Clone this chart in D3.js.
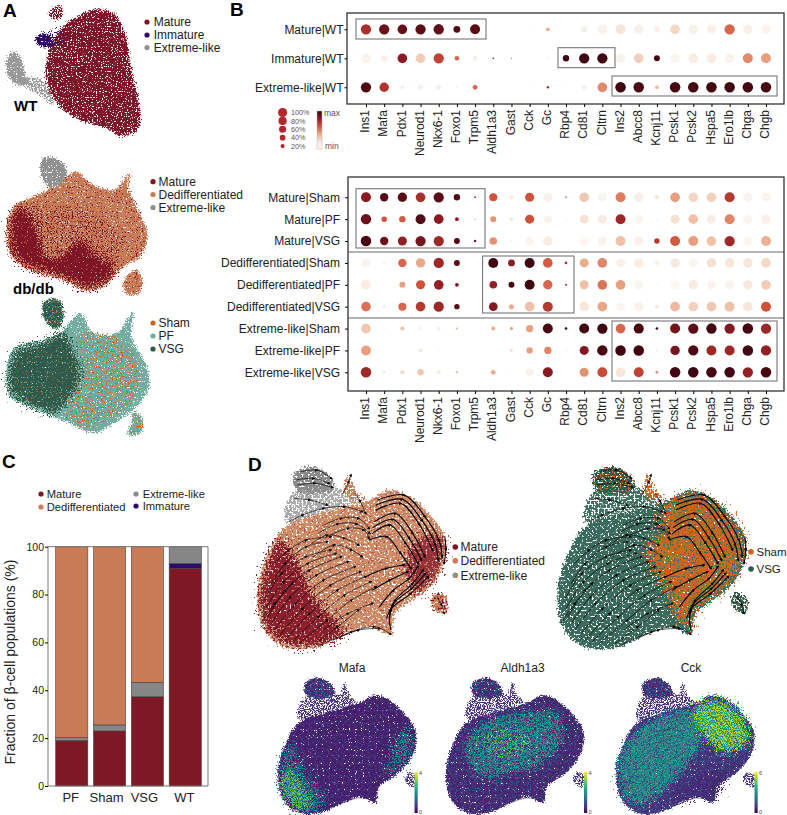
<!DOCTYPE html>
<html><head><meta charset="utf-8">
<script src="https://cdnjs.cloudflare.com/ajax/libs/d3/7.8.5/d3.min.js"></script>
<style>
html,body{margin:0;padding:0;background:#fff}
svg{display:block}
text{font-family:"Liberation Sans",Arial,sans-serif;fill:#222}
</style></head><body>
<svg id="c" width="787" height="815"></svg>
<script>
/* ---------- dot plots ---------- */
const genes=["Ins1","Mafa","Pdx1","Neurod1","Nkx6-1","Foxo1","Trpm5","Aldh1a3","Gast","Cck","Gc","Rbp4","Cd81","Cltrn","Ins2","Abcc8","Kcnj11","Pcsk1","Pcsk2","Hspa5","Ero1lb","Chga","Chgb"];
const rowsWT=["Mature|WT","Immature|WT","Extreme-like|WT"];
const pctWT=[
[90,90,80,90,92,40,85,0,0,1,12,1,30,80,85,75,30,80,75,75,90,75,75],
[80,35,80,80,90,18,18,2,1,0,5,35,90,90,70,80,30,75,80,80,80,85,85],
[90,75,12,25,22,5,20,0,0,1,5,2,15,80,95,95,12,95,95,95,95,95,95]];
const expWT=[
[.72,.88,.9,.92,.9,.95,.92,0,0,.1,.4,.1,.12,.08,.2,.1,.1,.25,.1,.1,.55,.1,.08],
[.06,.1,.8,.28,.65,.55,.12,.95,.7,0,.08,.98,.98,.98,.08,.27,.98,.07,.14,.14,.08,.47,.42],
[.95,.7,.12,.1,.12,.07,.55,0,0,.1,.7,.1,.15,.47,.98,.96,.35,.97,.97,.98,.98,.97,.97]];
const rowsDb=["Mature|Sham","Mature|PF","Mature|VSG","Dedifferentiated|Sham","Dedifferentiated|PF","Dedifferentiated|VSG","Extreme-like|Sham","Extreme-like|PF","Extreme-like|VSG"];
const pctDb=[
[85,60,75,80,90,35,3,55,18,70,70,4,80,70,85,75,17,80,80,80,85,70,70],
[92,25,35,85,80,12,1,30,12,70,55,2,65,70,85,60,5,70,80,70,85,70,75],
[95,60,70,90,90,30,5,50,7,60,75,1,70,70,85,75,25,85,85,80,90,65,85],
[75,5,60,75,90,30,.5,85,40,85,80,6,70,80,70,75,15,75,70,75,80,75,80],
[85,1,30,70,80,12,0,50,30,85,75,4,70,80,80,70,4,65,75,65,70,75,80],
[80,10,55,80,90,25,1,65,22,80,85,1,75,80,70,75,13,80,80,80,85,80,85],
[80,4,14,15,12,4,0,14,8,45,85,6,85,90,80,88,6,85,90,92,90,95,90],
[85,.5,1,12,3,0,0,.5,4,35,45,3,70,92,95,95,4,75,90,85,85,95,90],
[95,6,14,35,15,3,.5,20,2,50,85,.5,70,85,80,85,6,95,95,95,95,90,95]];
const expDb=[
[.8,.93,.92,.72,.92,.95,.7,.6,.15,.6,.1,.45,.3,.07,.5,.12,.2,.42,.25,.27,.68,.07,.07],
[.88,.6,.58,.95,.8,.8,.6,.45,.2,.6,.06,.2,.22,.15,.75,.06,.06,.22,.32,.12,.48,.07,.1],
[.97,.88,.78,.85,.75,.93,.9,.45,.06,.06,.14,.05,.05,.08,.32,.1,.68,.58,.42,.32,.75,.05,.37],
[.06,.12,.55,.4,.75,.92,.05,.98,.8,.98,.58,.7,.38,.48,.1,.14,.13,.17,.07,.22,.2,.2,.24],
[.14,.05,.42,.6,.78,.85,0,.78,.98,.99,.55,.65,.32,.52,.42,.06,.05,.05,.15,.06,.06,.18,.28],
[.52,.12,.55,.68,.75,.92,.06,.82,.38,.32,.68,.05,.2,.4,.05,.08,.2,.35,.27,.3,.32,.2,.6],
[.3,.1,.32,.06,.12,.35,0,.38,.42,.42,.96,.98,.98,.99,.55,.97,.98,.85,.92,.98,.82,.97,.75],
[.42,.05,.05,.18,.08,0,0,.05,.3,.42,.48,.15,.82,.97,.99,.99,.1,.85,.95,.75,.75,.98,.78],
[.75,.2,.25,.3,.15,.4,.06,.38,.08,.1,.8,.03,.45,.62,.2,.65,.5,.98,.99,.97,.98,.78,.97]];
const sizeLegend=[100,80,60,40,20];
const expStops=["#fdfaf7","#f7e6da","#e9a887","#d0503a","#8b1a22","#3a0410"];

/* ---------- stacked bars ---------- */
const groups=["PF","Sham","VSG","WT"];
const stackKeys=["Mature","Immature","Extreme-like","Dedifferentiated"];
const matureFrac=[19,23,37.3,91];
const immatureFrac=[0,0,0,2];
const extremeFrac=[1.3,2.5,6,7];
const dedifFrac=[79.7,74.5,56.7,0];
const yTicksC=[0,20,40,60,80,100];
const xLabelNudge=[-1,-3,-3,-1];

/* ---------- UMAP region outlines (panel A units) ---------- */
const wtMain=[[290,28],[340,40],[375,100],[392,200],[418,320],[415,385],[365,408],[320,385],[240,360],[180,320],[140,250],[140,180],[160,120],[200,70],[240,45]];
const wtTop=[[145,40],[180,16],[190,38],[170,60]];
const wtImm=[[105,120],[125,100],[155,110],[160,135],[130,142]];
const wtImmSpread=[[140,95],[190,85],[195,130],[150,125]];
const wtGrey=[[18,195],[35,155],[60,172],[78,225],[90,250],[55,255],[28,235]];
const wtTail=[[80,235],[125,240],[155,285],[160,318],[120,285],[80,262]];
const dbDed=[[20,700],[40,620],[100,590],[160,560],[230,515],[270,550],[340,570],[380,530],[395,510],[385,560],[420,640],[443,710],[420,770],[370,800],[310,860],[260,872],[190,840],[90,810],[35,770]];
const dbMat=[[30,700],[50,625],[80,630],[115,700],[145,775],[190,765],[240,720],[290,770],[345,795],[310,850],[260,862],[190,830],[90,800],[40,760]];
const dbSprinkle=[[90,630],[200,620],[300,650],[370,720],[330,790],[240,780],[150,750],[110,690]];
const dbGrey=[[125,480],[150,472],[190,490],[200,530],[160,565],[130,540]];
const dbSmall=[[380,830],[405,810],[425,830],[420,875],[385,885],[370,860]];
const trtAll=[[25,1180],[40,1050],[130,1020],[190,990],[240,940],[280,1000],[350,1000],[400,935],[395,1010],[440,1100],[447,1160],[410,1220],[340,1270],[280,1300],[210,1270],[110,1230]];
const trtTop=[[130,910],[150,897],[180,905],[190,950],[170,985],[135,960]];
const trtVSG=[[33,1175],[48,1055],[130,1028],[190,1000],[215,1040],[240,1100],[240,1140],[205,1195],[165,1240],[110,1222]];
const trtSham=[[200,1250],[215,1170],[250,1100],[240,1000],[340,1010],[400,1060],[410,1180],[340,1250],[270,1280]];
const trtSmall=[[400,1235],[422,1250],[425,1295],[385,1305],[395,1270]];

/* ---------- velocity-panel outlines (panel D units) ---------- */
const velMain=[[130,230],[230,190],[300,170],[370,150],[430,120],[500,150],[550,200],[587,260],[587,330],[560,390],[510,440],[445,490],[432,552],[370,530],[290,560],[220,592],[130,592],[70,540],[50,420],[85,300]];
const velMatL=[[110,265],[92,305],[60,420],[78,532],[135,582],[220,582],[300,550],[250,490],[205,430],[170,350],[130,285]];
const velMatR=[[475,335],[530,255],[578,265],[578,330],[552,385],[505,430],[490,400]];
const velShamRegion=[[372,160],[430,130],[495,158],[542,205],[578,262],[578,328],[552,385],[505,432],[440,482],[430,540],[400,515],[370,450],[325,350],[305,290],[350,250],[345,195]];
const velGrey=[[155,70],[210,50],[260,80],[270,115],[230,130],[160,120]];
const velSparse=[[150,130],[260,110],[340,150],[240,185],[130,215]];
const velSpike=[[310,70],[330,120],[360,150],[300,135]];
const velSmall=[[558,430],[590,440],[590,490],[550,470]];
const streamlines=[
[[70,450],[120,370],[190,320],[260,300]],[[80,500],[130,420],[200,360],[290,320]],[[100,540],[160,460],[240,390],[330,350]],
[[130,570],[200,490],[280,420],[360,380]],[[170,580],[250,510],[320,450],[390,410]],[[90,400],[130,340],[190,290],[250,275]],
[[100,340],[140,300],[190,270],[260,260]],[[210,585],[280,530],[340,480]],[[60,520],[100,460],[150,400]],
[[75,475],[125,395],[195,340],[275,310]],[[90,520],[145,440],[220,375],[310,335]],[[115,555],[180,475],[260,405],[345,365]],[[150,575],[225,500],[300,435],[375,395]],
[[230,586],[320,546],[385,530],[432,552]],[[280,565],[340,540],[400,535]],[[240,540],[310,490],[380,460]],
[[140,215],[180,195],[240,175],[300,170],[350,185]],[[240,225],[290,205],[340,205],[370,235]],[[260,255],[310,235],[355,240],[370,265]],
[[200,285],[250,255],[300,265],[340,285]],[[210,320],[270,285],[320,300],[350,320]],[[225,250],[280,222],[335,222],[372,250]],
[[160,90],[210,85],[255,100]],[[165,105],[215,100],[265,112]],[[175,65],[220,60],[262,85]],[[155,145],[200,150],[250,165]],[[295,130],[312,95],[318,75]],[[330,130],[345,155],[360,190]],
[[565,440],[578,465],[585,490]]
];
const streamlinesBold=[
[[395,150],[470,135],[530,200],[570,270],[580,320]],[[390,165],[465,148],[522,212],[560,285],[568,330]],[[390,180],[460,160],[515,225],[552,300]],[[385,215],[445,190],[495,250],[530,320]],[[382,232],[438,208],[485,265],[520,330]],[[380,250],[430,225],[475,280],[510,340]],[[370,270],[420,260],[460,310],[490,355]],
[[432,540],[432,480],[490,430],[540,380]],[[428,522],[438,465],[492,415],[532,370]],[[420,505],[445,450],[495,400],[525,360]],[[400,470],[440,420],[485,385],[510,350]],[[380,420],[430,390],[480,365]],[[360,380],[420,355],[470,345]],[[587,260],[590,300],[585,340]]
];
const geneTitles=["Mafa","Aldh1a3","Cck"];
const geneMax=[4,4,6];
/* gene panels: colour field regions */
const fieldLowLeft=[[95,310],[62,420],[80,530],[135,580],[215,580],[225,510],[150,430],[120,340]];
const fieldLowLeftCore=[[65,440],[80,530],[130,580],[175,565],[145,485],[90,420]];
const fieldRightEdge=[[500,320],[550,255],[578,290],[552,385],[505,432],[470,435],[495,380]];
const fieldCentre=[[130,310],[230,215],[370,190],[480,190],[510,290],[420,400],[320,430],[210,450],[145,400]];
const fieldAldhHot=[[200,290],[290,250],[380,300],[340,360],[240,370]];
const fieldCckHot=[[355,180],[430,135],[495,158],[545,215],[572,300],[520,335],[470,345],[405,295],[375,240]];
const fieldCckLow=[[340,465],[400,420],[480,420],[435,535],[370,520],[295,550],[270,515]];
const fieldCckMid=[[95,310],[230,205],[345,190],[375,300],[330,395],[265,470],[205,530],[125,560],[70,500],[62,420]];

/* ---------- legends ---------- */
const legA1=[["Mature","#7d1526"],["Immature","#2e0a6e"],["Extreme-like","#8f8f8f"]];
const legA2=[["Mature","#7d1526"],["Dedifferentiated","#c97b56"],["Extreme-like","#8f8f8f"]];
const legA3=[["Sham","#c8651f"],["PF","#73ad9f"],["VSG","#2d5a4c"]];
const legD2=[["Sham","#c8651f"],["VSG","#2d5a4c"]];

const svg=d3.select("#c");
const defs=svg.append("defs");
/* texture filters: turn a region fill into a scatter-like grain */
function speckle(id,freq,seed,thr,disp){
  const f=defs.append("filter").attr("id",id).attr("filterUnits","userSpaceOnUse")
    .attr("x",0).attr("y",0).attr("width",787).attr("height",815)
    .attr("color-interpolation-filters","sRGB");
  f.append("feTurbulence").attr("type","fractalNoise").attr("baseFrequency",freq).attr("numOctaves",1).attr("seed",seed).attr("result","n");
  f.append("feDisplacementMap").attr("in","SourceGraphic").attr("in2","n").attr("scale",disp).attr("xChannelSelector","R").attr("yChannelSelector","B").attr("result","d");
  f.append("feColorMatrix").attr("in","n").attr("type","matrix")
    .attr("values",`0 0 0 0 0 0 0 0 0 0 0 0 0 0 0 0 16 0 0 ${-16*thr}`).attr("result","m");
  f.append("feComposite").attr("in","d").attr("in2","m").attr("operator","in").attr("result","o");
  f.append("feGaussianBlur").attr("in","o").attr("stdDeviation",.35);
}
speckle("dense",.8,3,.30,10);speckle("dense2",.8,11,.34,10);speckle("mid",.8,7,.44,10);
speckle("sparse",.8,5,.57,10);speckle("sparse2",.8,17,.53,10);speckle("vsparse",.8,23,.63,10);
speckle("soft",.8,31,.29,34);
speckle("vDense",.5,4,.34,10);speckle("vMid",.5,9,.44,10);speckle("vSparse",.5,15,.58,10);speckle("vsparseV",.5,37,.62,10);
speckle("vSoft",.5,41,.32,38);
speckle("gDense",.85,6,.27,7);speckle("gMid",.85,13,.45,7);speckle("gSparse",.85,21,.57,7);speckle("gSparse2",.85,53,.55,7);
speckle("gSoft",.85,43,.32,38);speckle("gSoftMid",.85,47,.46,38);

const closed=d3.line().curve(d3.curveCatmullRomClosed.alpha(.5));
function region(g,pts,sx,sy,fill,filter,op){
  g.append("path").attr("d",closed(pts.map(p=>[sx(p[0]),sy(p[1])])))
   .attr("fill",fill).attr("filter",`url(#${filter})`).attr("opacity",op==null?1:op);
}
function legend(items,x,ys,tx,fs,r){
  items.forEach((d,i)=>{
    svg.append("circle").attr("cx",x).attr("cy",ys[i]).attr("r",r||2.6).attr("fill",d[1]);
    svg.append("text").attr("x",tx).attr("y",ys[i]+fs*.36).attr("font-size",fs).text(d[0]);
  });
}
function letter(t,x,y){svg.append("text").attr("x",x).attr("y",y).attr("font-size",19).attr("font-weight","bold").style("fill","#000").text(t);}
letter("A",3,17);letter("B",230,16);letter("C",2,468);letter("D",248,471);

/* ---------- panel A ---------- */
const ax=d3.scaleLinear([0,690],[0,230]),ay=d3.scaleLinear([0,1320],[0,440]);
const gA=svg.append("g");
region(gA,wtGrey,ax,ay,"#999","dense");
region(gA,wtTail,ax,ay,"#999","mid");
region(gA,wtMain,ax,ay,"#7d1526","dense2");
region(gA,wtTop,ax,ay,"#7d1526","mid");
region(gA,wtImmSpread,ax,ay,"#2e0a6e","sparse");
region(gA,wtImm,ax,ay,"#2e0a6e","dense");
region(gA,dbDed,ax,ay,"#c97b56","dense");
region(gA,dbSmall,ax,ay,"#c97b56","dense");
region(gA,dbSmall,ax,ay,"#7d1526","vsparse");
region(gA,dbDed,ax,ay,"#7d1526","vsparse");
region(gA,dbSprinkle,ax,ay,"#7d1526","sparse");
region(gA,dbMat,ax,ay,"#7d1526","soft");
region(gA,dbGrey,ax,ay,"#909090","dense");
region(gA,trtTop,ax,ay,"#73ad9f","dense");
region(gA,trtTop,ax,ay,"#2d5a4c","dense2");
region(gA,trtTop,ax,ay,"#c8651f","vsparse");
region(gA,trtAll,ax,ay,"#73ad9f","dense");
region(gA,trtSmall,ax,ay,"#73ad9f","dense");
region(gA,trtSmall,ax,ay,"#c8651f","sparse");
region(gA,trtSham,ax,ay,"#c8651f","sparse");
region(gA,trtVSG,ax,ay,"#2d5a4c","soft");
region(gA,trtVSG,ax,ay,"#c8651f","vsparse",.6);
svg.append("text").attr("x",14).attr("y",111).attr("font-size",15).attr("font-weight","bold").style("fill","#000").text("WT");
svg.append("text").attr("x",13).attr("y",294).attr("font-size",15).attr("font-weight","bold").style("fill","#000").text("db/db");
legend(legA1,147,[22,35,47.5],153.7,12);
legend(legA2,153,[181.7,194.5,207.5],158.5,12);
legend(legA3,153,[323,336,349],158.5,12);

/* ---------- panel B ---------- */
const xGene=d3.scalePoint(genes,[366,766]);
const sizeScale=d3.scaleSqrt([0,100],[0,5.4]);
const expScale=d3.scaleLinear(expStops.map((_,i)=>i/(expStops.length-1)),expStops);
function dotPanel(rows,pct,exp,yr,box,tickSize,pad,seps,rects){
  const y=d3.scalePoint(rows,yr);
  const g=svg.append("g");
  seps.forEach(s=>g.append("line").attr("x1",box[0]).attr("x2",box[2]).attr("y1",s).attr("y2",s).attr("stroke","#666").attr("stroke-width",1));
  rows.forEach((r,i)=>genes.forEach((ge,j)=>{
    if(pct[i][j]<=0)return;
    g.append("circle").attr("cx",xGene(ge)).attr("cy",y(r)).attr("r",sizeScale(pct[i][j])).attr("fill",expScale(exp[i][j]));
  }));
  rects.forEach(q=>g.append("rect").attr("x",q[0]).attr("y",q[1]).attr("width",q[2]-q[0]).attr("height",q[3]-q[1]).attr("fill","none").attr("stroke","#777").attr("stroke-width",1.1));
  g.append("rect").attr("x",box[0]).attr("y",box[1]).attr("width",box[2]-box[0]).attr("height",box[3]-box[1]).attr("fill","none").attr("stroke","#333").attr("stroke-width",1.3);
  const ya=svg.append("g").attr("transform",`translate(${box[0]},0)`).call(d3.axisLeft(y).tickSize(tickSize).tickPadding(pad));
  ya.select(".domain").remove();ya.selectAll("text").attr("font-size",12).attr("font-family",null);
  const xa=svg.append("g").attr("transform",`translate(0,${box[3]})`).call(d3.axisBottom(xGene).tickSize(3).tickPadding(4));
  xa.select(".domain").remove();
  xa.selectAll("text").attr("font-size",12).attr("font-family",null).attr("transform","rotate(-90)").attr("text-anchor","end").attr("x",-6).attr("y",-1.5).attr("dy",".35em");
}
dotPanel(rowsWT,pctWT,expWT,[29.3,87.3],[347,13,784,104],2.5,1,[],[[356,19,486,39],[558,47.7,615,67.7],[612,76,777,96]]);
dotPanel(rowsDb,pctDb,expDb,[197.3,372.3],[348,177,784,391],3,5,[252,318],[[356,188.7,485,248],[482.6,256,574,313],[612,321,777,381]]);
/* size legend */
sizeLegend.forEach((p,i)=>{
  const cy=112.5+i*8.4;
  svg.append("circle").attr("cx",282.6).attr("cy",cy).attr("r",sizeScale(p)*.85).attr("fill","#b5262b");
  svg.append("text").attr("x",291).attr("y",cy+2.6).attr("font-size",7.2).style("fill","#555").text(p+"%");
});
const grad=defs.append("linearGradient").attr("id","expG").attr("x1",0).attr("x2",0).attr("y1",1).attr("y2",0);
expStops.forEach((c,i)=>grad.append("stop").attr("offset",i/(expStops.length-1)).attr("stop-color",c));
svg.append("rect").attr("x",317).attr("y",111).attr("width",5).attr("height",38).attr("fill","url(#expG)").attr("stroke","#bbb").attr("stroke-width",.5);
svg.append("text").attr("x",324).attr("y",116).attr("font-size",8.5).style("fill","#555").text("max");
svg.append("text").attr("x",325).attr("y",149).attr("font-size",8.5).style("fill","#555").text("min");

/* ---------- panel C ---------- */
const xC=d3.scaleBand(groups,[50,207]).padding(.15);
const yC=d3.scaleLinear([0,100],[786,546.7]);
const stackColors={"Mature":"#7f1825","Extreme-like":"#868686","Immature":"#2e0a6e","Dedifferentiated":"#c97b56"};
const fracs={"Mature":matureFrac,"Extreme-like":extremeFrac,"Immature":immatureFrac,"Dedifferentiated":dedifFrac};
const table=groups.map((g,i)=>{const o={group:g};stackKeys.forEach(k=>o[k]=fracs[k][i]);return o;});
const series=d3.stack().keys(stackKeys)(table);
const gC=svg.append("g");
series.forEach(s=>gC.selectAll(null).data(s).join("rect").filter(d=>d[1]>d[0])
  .attr("x",d=>xC(d.data.group)).attr("width",xC.bandwidth())
  .attr("y",d=>yC(d[1])).attr("height",d=>yC(d[0])-yC(d[1]))
  .attr("fill",stackColors[s.key]).attr("stroke","#444").attr("stroke-width",.6));
svg.append("path").attr("d",`M48,${yC(0)}V${yC(100)}H208V${yC(0)}Z`).attr("fill","none").attr("stroke","#777").attr("stroke-width",1);
const yaC=svg.append("g").attr("transform","translate(48,0)").call(d3.axisLeft(yC).tickValues(yTicksC).tickSize(3).tickPadding(1));
yaC.select(".domain").remove();yaC.selectAll("text").attr("font-size",10.5).attr("font-family",null);
const xaC=svg.append("g").attr("transform",`translate(0,${yC(0)})`).call(d3.axisBottom(xC).tickSize(0).tickPadding(7));
xaC.select(".domain").remove();xaC.selectAll("text").attr("font-size",13).attr("font-family",null).attr("dx",(d,i)=>xLabelNudge[i]);
svg.append("text").attr("transform","translate(15,662) rotate(-90)").attr("text-anchor","middle").attr("font-size",14).text("Fraction of β-cell populations (%)");
legend([["Mature","#7d1526"],["Dedifferentiated","#c97b56"]],41,[494,507],46.7,11.2);
legend([["Extreme-like","#8a8a8a"],["Immature","#2e0a6e"]],136,[494,506],142.7,11.2);

/* ---------- panel D ---------- */
const open=d3.line().curve(d3.curveCatmullRom.alpha(.5));
defs.append("marker").attr("id","arr").attr("viewBox","0 0 6 6").attr("refX",3).attr("refY",3)
  .attr("markerWidth",3.2).attr("markerHeight",3.2).attr("orient","auto").attr("markerUnits","userSpaceOnUse")
  .append("path").attr("d","M0,0L6,3L0,6Z").attr("fill","#000");
function streams(sx,sy,w,wb,col,mark){
  const g=svg.append("g").attr("fill","none").attr("stroke",col).attr("stroke-linecap","round");
  const one=(l,wd)=>{
    g.append("path").attr("d",open(l.map(p=>[sx(p[0]),sy(p[1])]))).attr("stroke-width",wd);
    if(mark){
      l.forEach((p,i)=>{if(i>0)g.append("path").attr("d",`M${sx(l[i-1][0])},${sy(l[i-1][1])}L${sx(p[0])},${sy(p[1])}`).attr("stroke","none").attr("marker-end","url(#arr)");});
    }
  };
  streamlines.forEach(l=>one(l,w));
  streamlinesBold.forEach(l=>one(l,wb));
}
const d1x=d3.scaleLinear([0,600],[240,240+600/2.866]),d2x=d3.scaleLinear([0,600],[540,540+600/2.866]);
const dy=d3.scaleLinear([0,600],[450,650]);
const gD=svg.append("g");
region(gD,velSparse,d1x,dy,"#a8a8a8","vMid");
region(gD,velGrey,d1x,dy,"#8a8a8a","vDense");
region(gD,velSpike,d1x,dy,"#c97b56","vMid");
region(gD,velMain,d1x,dy,"#d08c66","vDense");
region(gD,velSmall,d1x,dy,"#c97b56","vDense");
region(gD,velSmall,d1x,dy,"#7d1526","vSparse");
region(gD,velMatL,d1x,dy,"#8b1f30","vSoft");
region(gD,velMatR,d1x,dy,"#8b1f30","vSoft",.85);
region(gD,velMain,d1x,dy,"#8b1f30","vsparseV",.5);
streams(d1x,dy,.65,1.1,"#000",true);
legend(legA2,455.3,[547,560.7,575.3],460.5,12,2.8);
region(gD,velSparse,d2x,dy,"#3f6f60","vMid");
region(gD,velGrey,d2x,dy,"#2d5a4c","vDense");
region(gD,velGrey,d2x,dy,"#c8651f","vSparse");
region(gD,velSpike,d2x,dy,"#c8651f","vMid");
region(gD,velMain,d2x,dy,"#3a6a5b","vDense");
region(gD,velShamRegion,d2x,dy,"#c8691f","vSoft");
region(gD,velSmall,d2x,dy,"#c8651f","vMid");
region(gD,velSmall,d2x,dy,"#2d5a4c","vMid");
region(gD,velMain,d2x,dy,"#3a6a5b","vsparseV",.7);
streams(d2x,dy,.65,1.1,"#000",true);
legend(legD2,751,[551.7,569],756.5,11.5,2.8);

const gk=.2547,gky=.248;
const viridis=d3.interpolateViridis;
[278.4,446,616.5].forEach((x0,i)=>{
  const sx=d3.scaleLinear([50,600],[x0,x0+550*gk]),sy=d3.scaleLinear([50,600],[678,678+550*gky]);
  const g=svg.append("g");
  const main=velMain,top=velGrey;
  [velSparse,velSpike,velSmall].forEach(p=>region(g,p,sx,sy,viridis(.15),"gMid"));
  region(g,top,sx,sy,viridis(.12),"gDense");
  region(g,top,sx,sy,viridis(.42),"gSparse");
  if(i==0){
    region(g,main,sx,sy,viridis(.08),"gDense");
    region(g,main,sx,sy,viridis(.22),"gSparse");
    region(g,fieldLowLeft,sx,sy,viridis(.45),"gSoftMid");
    region(g,fieldLowLeftCore,sx,sy,viridis(.42),"gSoft");
    region(g,fieldLowLeftCore,sx,sy,viridis(.75),"gSoftMid");
    region(g,fieldRightEdge,sx,sy,viridis(.5),"gSoftMid");
  } else if(i==1){
    region(g,main,sx,sy,viridis(.1),"gDense");
    region(g,main,sx,sy,viridis(.3),"gSparse");
    region(g,fieldCentre,sx,sy,viridis(.45),"gSoftMid");
    region(g,fieldCentre,sx,sy,viridis(.6),"gSparse2");
    region(g,fieldAldhHot,sx,sy,viridis(.78),"gSparse");
  } else {
    region(g,main,sx,sy,viridis(.14),"gDense");
    region(g,main,sx,sy,viridis(.3),"gSparse");
    region(g,fieldCckMid,sx,sy,viridis(.47),"gSoft");
    region(g,fieldCckMid,sx,sy,viridis(.66),"gSparse2");
    region(g,fieldCckMid,sx,sy,viridis(.22),"gSparse");
    region(g,fieldCckHot,sx,sy,viridis(.55),"gSoft");
    region(g,fieldCckHot,sx,sy,viridis(.87),"gSoftMid");
    region(g,fieldCckLow,sx,sy,viridis(.1),"gSoftMid");
  }
  streams(sx,sy,.3,.4,"#333",false);
  svg.append("text").attr("x",[352,522.6,691][i]).attr("y",672).attr("text-anchor","middle").attr("font-size",12).text(geneTitles[i]);
  const bx=[414.5,584,754.5][i];
  const idg=defs.append("linearGradient").attr("id","vg"+i).attr("x1",0).attr("x2",0).attr("y1",1).attr("y2",0);
  d3.range(0,1.01,.1).forEach(t=>idg.append("stop").attr("offset",t).attr("stop-color",viridis(t)));
  svg.append("rect").attr("x",bx).attr("y",772).attr("width",3.2).attr("height",41).attr("fill",`url(#vg${i})`);
  svg.append("text").attr("x",bx+4.5).attr("y",775).attr("font-size",5.5).style("fill","#444").text(geneMax[i]);
  svg.append("text").attr("x",bx+4.5).attr("y",814).attr("font-size",5.5).style("fill","#444").text(0);
});
</script>
</body></html>
